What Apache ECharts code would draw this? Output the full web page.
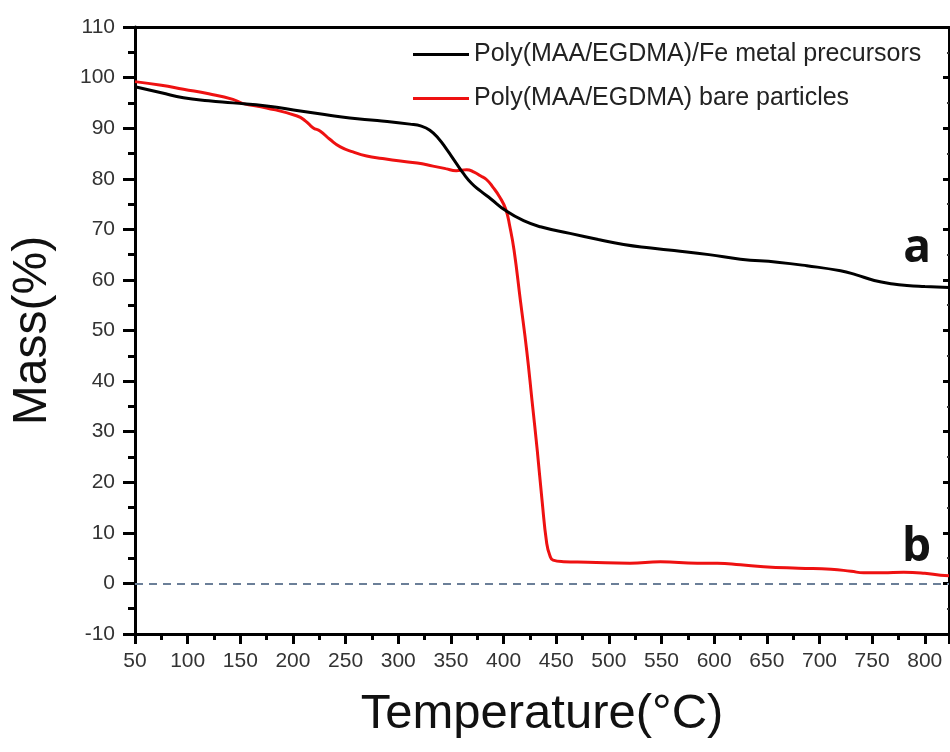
<!DOCTYPE html>
<html>
<head>
<meta charset="utf-8">
<script src="https://cdn.jsdelivr.net/npm/echarts@6/dist/echarts.min.js"></script>
<style>
html,body{margin:0;padding:0;background:#fff;}
#chart{width:950px;height:752px;}
</style>
</head>
<body>
<div id="chart"></div>
<script>
// Data (Temperature in °C, Mass in %)
var seriesNames = ['Poly(MAA/EGDMA)/Fe metal precursors', 'Poly(MAA/EGDMA) bare particles'];
var tempA = [50, 75, 96, 120, 143, 175, 207, 230, 254, 280, 311, 322, 330, 338, 346, 354, 362, 370, 378, 388, 402, 419, 435, 463, 490, 514, 540, 562, 595, 625, 660, 688, 720, 735, 752, 770, 783, 800, 823];
var massA = [98.2, 97.0, 96.0, 95.4, 95.0, 94.4, 93.4, 92.7, 92.0, 91.5, 90.8, 90.4, 89.6, 88.0, 85.8, 83.4, 81.0, 79.0, 77.6, 76.0, 73.7, 71.7, 70.5, 69.2, 68.0, 67.0, 66.3, 65.8, 65.0, 64.1, 63.5, 62.8, 61.8, 61.0, 59.9, 59.2, 58.9, 58.7, 58.5];
var tempB = [50, 75, 96, 120, 143, 152, 175, 204, 212, 219, 226, 235, 245, 257, 270, 285, 302, 318, 333, 345, 355, 365, 372, 378, 384, 390, 396, 402, 406, 410, 416, 422, 427, 432, 436.5, 441, 444, 447, 457, 480, 520, 549, 584, 603, 625, 647, 680, 711, 730, 742, 760, 780, 800, 815, 823];
var massB = [99.2, 98.5, 97.7, 96.8, 95.7, 94.9, 94.0, 92.4, 91.4, 90.1, 89.4, 87.8, 86.3, 85.3, 84.5, 84.0, 83.5, 83.1, 82.5, 82.0, 81.6, 81.8, 81.3, 80.6, 79.8, 78.3, 76.5, 74.0, 70.5, 65.8, 55.9, 46.0, 36.2, 26.3, 16.5, 7.9, 5.5, 4.6, 4.3, 4.2, 4.0, 4.3, 4.0, 4.0, 3.7, 3.3, 3.0, 2.8, 2.4, 2.1, 2.1, 2.2, 2.0, 1.6, 1.5];
var xMin = 50, xMax = 823, xStep = 50;
var yMin = -10, yMax = 110, yStep = 10;
var curveLabels = [{text: 'a', x: 823, y: 58.5}, {text: 'b', x: 823, y: 1.5}];

function pairs(xs, ys) { return xs.map(function (x, i) { return [x, ys[i]]; }); }

var FONT = '"Liberation Sans", Arial, sans-serif';
var chart = echarts.init(document.getElementById('chart'), null, {renderer: 'canvas'});

var option = {
  backgroundColor: '#fff',
  animation: false,
  grid: {left: 135, right: 1, top: 27, bottom: 118, containLabel: false},
  legend: {
    orient: 'vertical',
    left: 408,
    top: 37,
    itemWidth: 56,
    itemHeight: 3,
    itemGap: 19,
    icon: 'rect',
    textStyle: {fontFamily: FONT, fontSize: 25, color: '#222', lineHeight: 25},
    data: seriesNames
  },
  xAxis: [{
    type: 'value', min: xMin, max: xMax, interval: xStep,
    name: 'Temperature(\u00B0C)', nameLocation: 'middle', nameGap: 56,
    nameTextStyle: {fontFamily: FONT, fontSize: 49, color: '#111'},
    axisLine: {show: true, onZero: false, lineStyle: {color: '#000', width: 3}},
    axisTick: {show: true, inside: false, length: 10, lineStyle: {color: '#000', width: 3}},
    minorTick: {show: true, splitNumber: 2, length: 6, lineStyle: {color: '#000', width: 3}},
    axisLabel: {fontFamily: FONT, fontSize: 21, color: '#333', margin: 17, showMaxLabel: false},
    splitLine: {show: false}
  }, {
    type: 'value', min: xMin, max: xMax, position: 'top',
    axisLine: {show: true, onZero: false, lineStyle: {color: '#000', width: 3}},
    axisTick: {show: false}, axisLabel: {show: false}, splitLine: {show: false}
  }],
  yAxis: [{
    type: 'value', min: yMin, max: yMax, interval: yStep,
    name: 'Mass(%)', nameLocation: 'middle', nameGap: 78, nameRotate: 90,
    nameTextStyle: {fontFamily: FONT, fontSize: 48, color: '#111'},
    axisLine: {show: true, onZero: false, lineStyle: {color: '#000', width: 3}},
    axisTick: {show: true, inside: false, length: 12, lineStyle: {color: '#000', width: 3}},
    minorTick: {show: true, splitNumber: 2, length: 7, lineStyle: {color: '#000', width: 3}},
    axisLabel: {fontFamily: FONT, fontSize: 21, color: '#333', margin: 20},
    splitLine: {show: false}
  }, {
    type: 'value', min: yMin, max: yMax, interval: yStep, position: 'right',
    axisLine: {show: true, onZero: false, lineStyle: {color: '#000', width: 2}},
    axisTick: {show: true, inside: true, length: 6, lineStyle: {color: '#000', width: 3}},
    minorTick: {show: true, splitNumber: 2, length: 2, lineStyle: {color: '#333', width: 2}},
    axisLabel: {show: false}, splitLine: {show: false}
  }],
  series: [{
    name: seriesNames[0], type: 'line', xAxisIndex: 0, yAxisIndex: 0,
    data: pairs(tempA, massA), showSymbol: false, symbol: 'none',
    smooth: 0.5,
    itemStyle: {color: '#000'},
    lineStyle: {color: '#000', width: 3},
    markLine: {
      silent: true, symbol: 'none', label: {show: false},
      lineStyle: {color: '#6b7f98', width: 2, type: [8, 6]},
      data: [{yAxis: 0}]
    },
    z: 3
  }, {
    name: seriesNames[1], type: 'line', xAxisIndex: 0, yAxisIndex: 0,
    data: pairs(tempB, massB), showSymbol: false, symbol: 'none',
    smooth: 0.5,
    itemStyle: {color: '#ee1111'},
    lineStyle: {color: '#ee1111', width: 3},
    z: 2
  }]
};
chart.setOption(option);

// curve annotations "a" and "b", placed relative to the data scale
var g = curveLabels.map(function (c) {
  var p = chart.convertToPixel({xAxisIndex: 0, yAxisIndex: 0}, [c.x, c.y]);
  return {
    type: 'text',
    x: p[0] - 18,
    y: p[1] - (c.text === 'a' ? 16 : 5),
    style: {
      text: c.text, fill: '#111',
      font: 'bold 46px "Open Sans", "DejaVu Sans", sans-serif',
      textAlign: 'right', textVerticalAlign: 'bottom'
    },
    z: 10
  };
});
chart.setOption({graphic: g});
</script>
</body>
</html>
